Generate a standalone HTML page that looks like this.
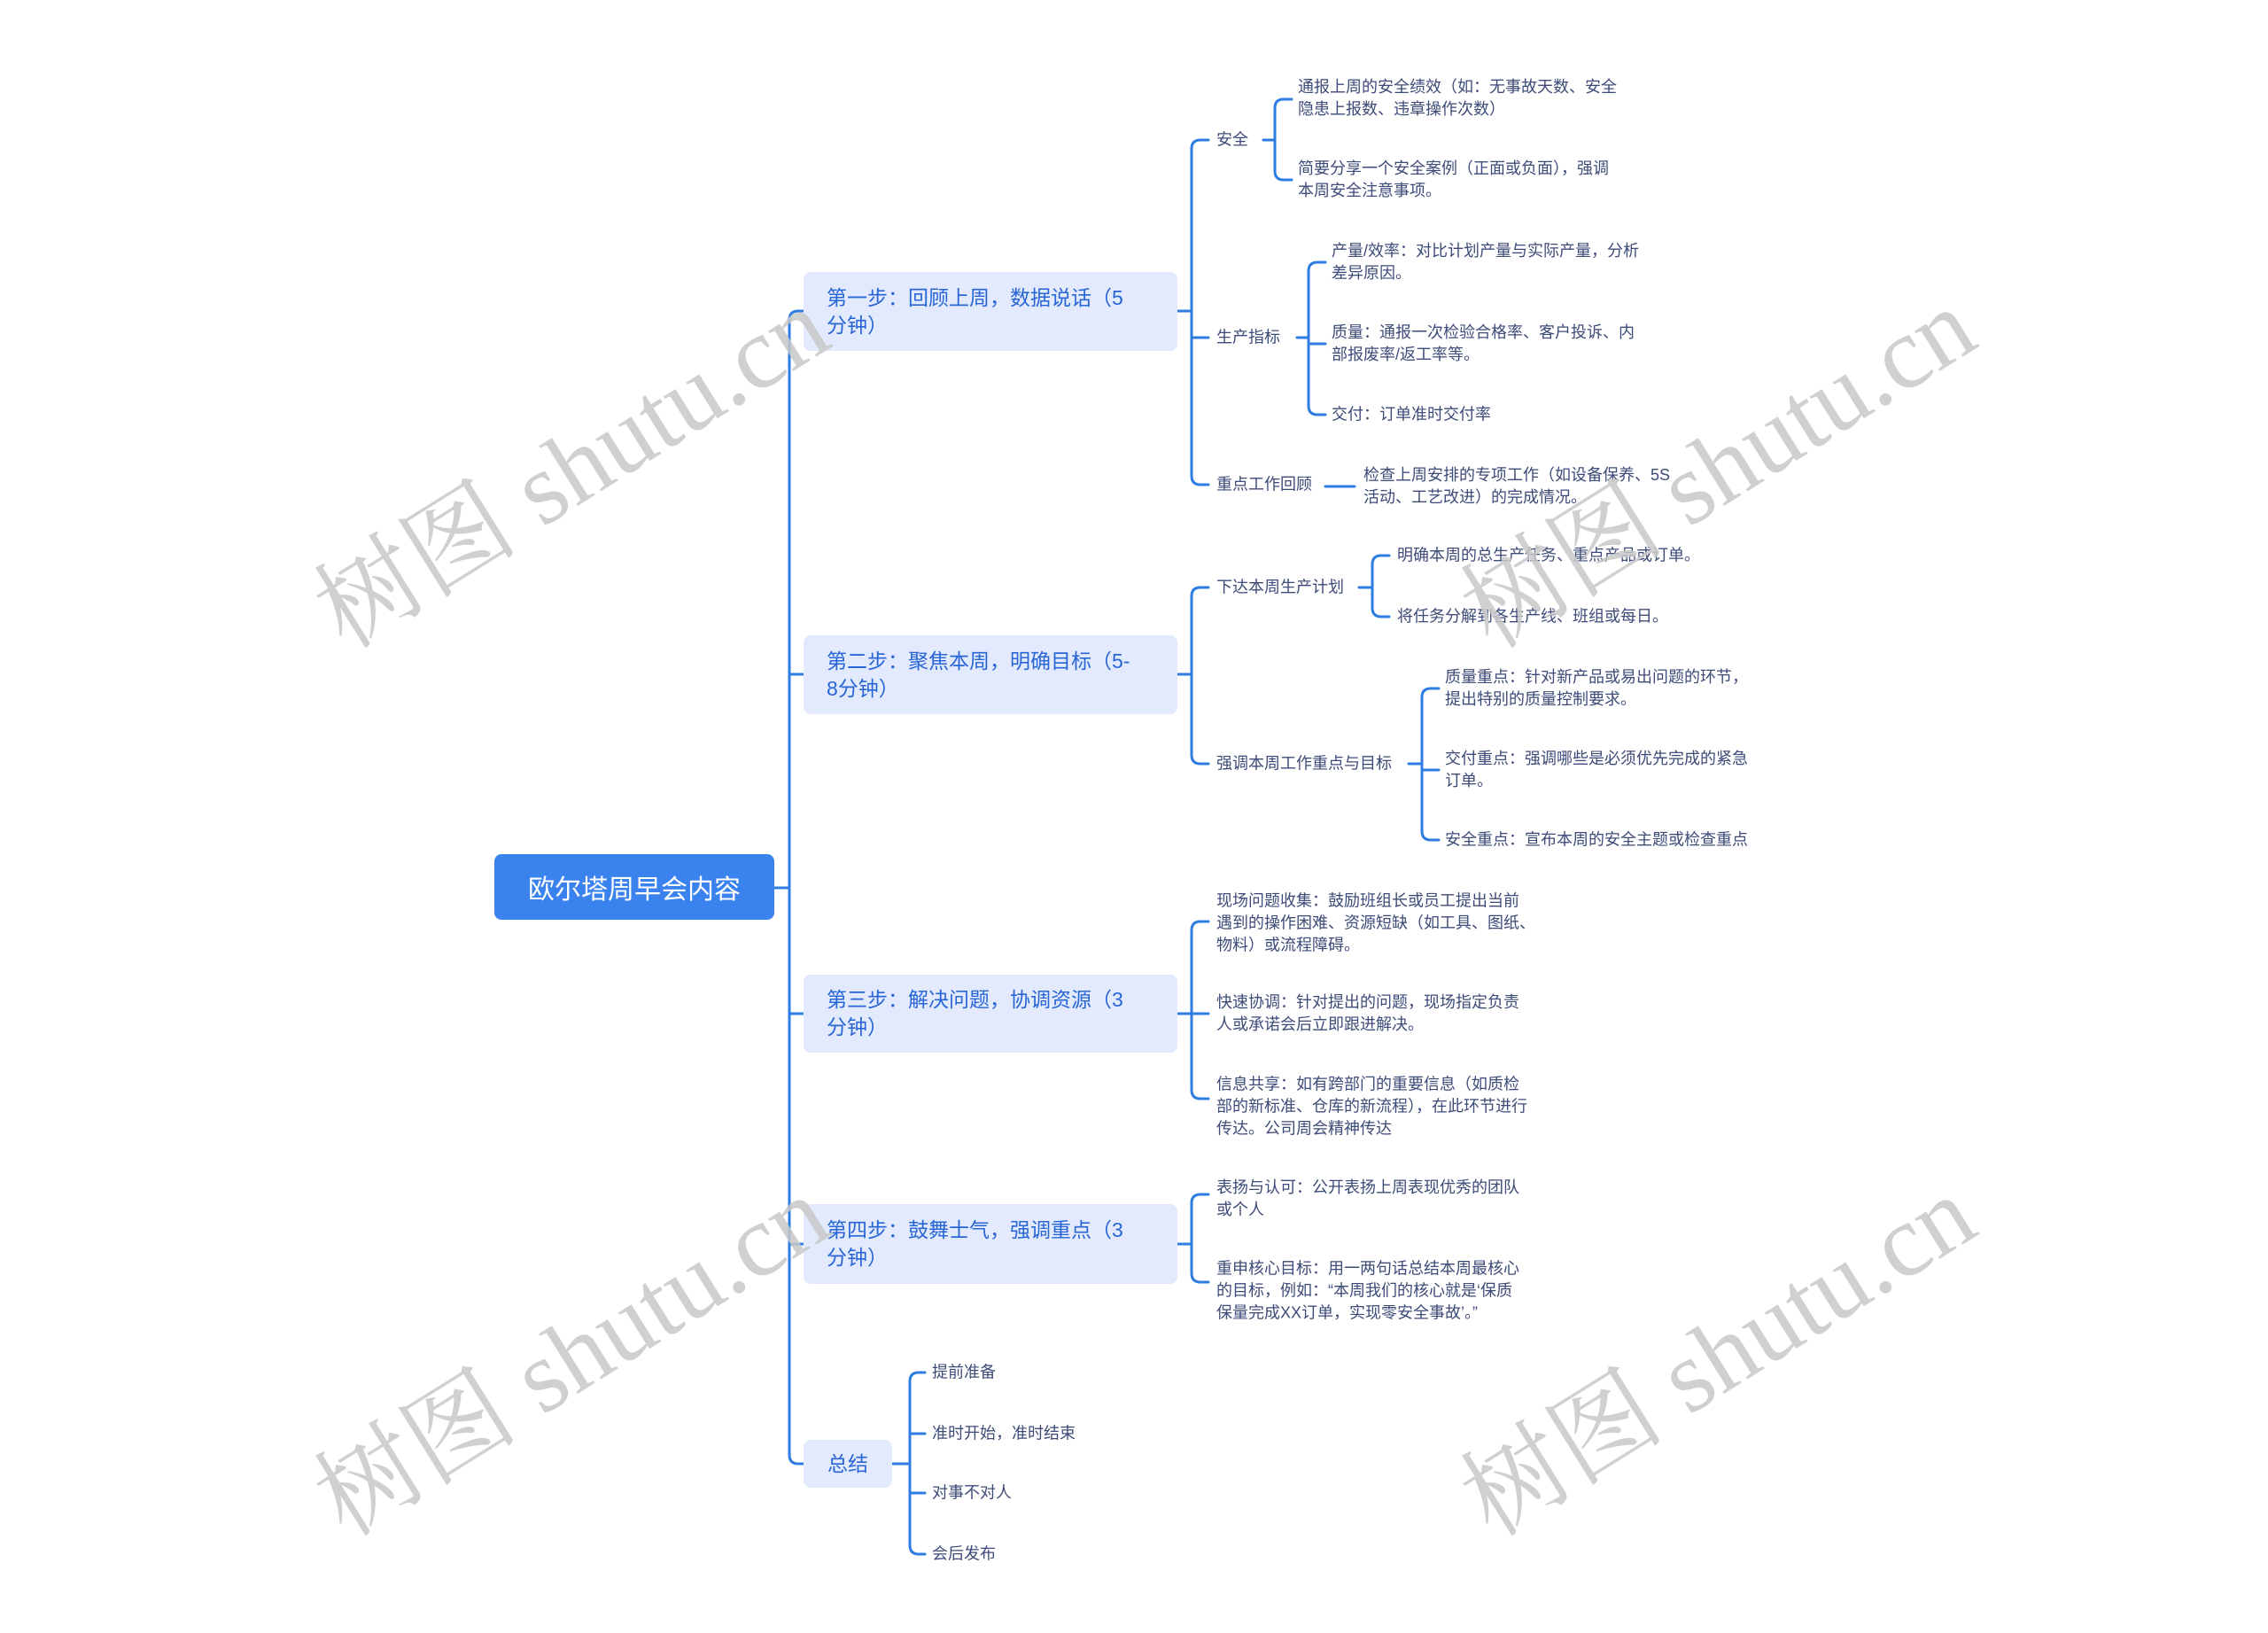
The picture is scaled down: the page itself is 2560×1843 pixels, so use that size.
<!DOCTYPE html>
<html><head><meta charset="utf-8">
<style>
html,body{margin:0;padding:0;background:#fff}
body{width:2560px;height:1843px;position:relative;overflow:hidden;font-family:"Liberation Sans","Noto Sans CJK SC",sans-serif}
.t{position:absolute;white-space:nowrap;color:#3d4b78;font-size:18px;line-height:25px;transform:translateY(-50%)}
.box{position:absolute;background:#e3eafd;border-radius:8px;color:#2866d6;font-size:23px;line-height:31px;box-sizing:border-box;padding:0 26px;display:flex;align-items:center}
.root{position:absolute;left:558px;top:964px;width:316px;height:74px;background:#3a82ee;border-radius:8px;color:#fff;font-size:30px;display:flex;align-items:center;justify-content:center}
.wm{position:absolute;font-family:"Liberation Serif","Noto Serif CJK SC",serif;font-size:116px;color:rgba(200,200,200,0.85);white-space:nowrap;transform:translate(-50%,-50%) rotate(-32deg)}
svg{position:absolute;left:0;top:0}
</style></head><body>
<svg width="2560" height="1843" fill="none" stroke="#2f7de1" stroke-width="3" stroke-linecap="round">
<path d="M874 1002H891M907 351H901Q891 351 891 361V1642Q891 1652 901 1652H907M891 761H907M891 1144H907M891 1404H907"/>
<path d="M1329 351H1345M1364 158H1355Q1345 158 1345 168V537Q1345 547 1355 547H1364M1345 381H1364"/>
<path d="M1426 158H1439M1458 112H1449Q1439 112 1439 122V193Q1439 203 1449 203H1458"/>
<path d="M1464 381H1477M1496 296H1487Q1477 296 1477 306V458Q1477 468 1487 468H1496M1477 388H1496"/>
<path d="M1496 549H1529"/>
<path d="M1329 761H1345M1364 663H1355Q1345 663 1345 673V852Q1345 862 1355 862H1364"/>
<path d="M1534 663H1549M1568 627H1559Q1549 627 1549 637V686Q1549 696 1559 696H1568"/>
<path d="M1590 862H1605M1624 777H1615Q1605 777 1605 787V938Q1605 948 1615 948H1624M1605 869H1624"/>
<path d="M1329 1144H1345M1364 1040H1355Q1345 1040 1345 1050V1230Q1345 1240 1355 1240H1364M1345 1144H1364"/>
<path d="M1329 1404H1345M1364 1348H1355Q1345 1348 1345 1358V1437Q1345 1447 1355 1447H1364"/>
<path d="M1007 1652H1027M1044 1549H1037Q1027 1549 1027 1559V1744Q1027 1754 1037 1754H1044M1027 1618H1044M1027 1685H1044"/>
</svg>

<div class="root">欧尔塔周早会内容</div>
<div class="box" style="left:907px;top:307px;width:422px;height:89px">第一步：回顾上周，数据说话（5<br>分钟）</div>
<div class="box" style="left:907px;top:717px;width:422px;height:89px">第二步：聚焦本周，明确目标（5-<br>8分钟）</div>
<div class="box" style="left:907px;top:1100px;width:422px;height:88px">第三步：解决问题，协调资源（3<br>分钟）</div>
<div class="box" style="left:907px;top:1359px;width:422px;height:90px">第四步：鼓舞士气，强调重点（3<br>分钟）</div>
<div class="box" style="left:907px;top:1625px;width:100px;height:54px;justify-content:center;padding:0">总结</div>

<div class="t" style="left:1373px;top:158px">安全</div>
<div class="t" style="left:1465px;top:111px">通报上周的安全绩效（如：无事故天数、安全<br>隐患上报数、违章操作次数）</div>
<div class="t" style="left:1465px;top:203px">简要分享一个安全案例（正面或负面），强调<br>本周安全注意事项。</div>
<div class="t" style="left:1373px;top:381px">生产指标</div>
<div class="t" style="left:1503px;top:296px">产量/效率：对比计划产量与实际产量，分析<br>差异原因。</div>
<div class="t" style="left:1503px;top:388px">质量：通报一次检验合格率、客户投诉、内<br>部报废率/返工率等。</div>
<div class="t" style="left:1503px;top:468px">交付：订单准时交付率</div>
<div class="t" style="left:1373px;top:547px">重点工作回顾</div>
<div class="t" style="left:1539px;top:549px">检查上周安排的专项工作（如设备保养、5S<br>活动、工艺改进）的完成情况。</div>

<div class="t" style="left:1373px;top:663px">下达本周生产计划</div>
<div class="t" style="left:1577px;top:627px">明确本周的总生产任务、重点产品或订单。</div>
<div class="t" style="left:1577px;top:696px">将任务分解到各生产线、班组或每日。</div>
<div class="t" style="left:1373px;top:862px">强调本周工作重点与目标</div>
<div class="t" style="left:1631px;top:777px">质量重点：针对新产品或易出问题的环节，<br>提出特别的质量控制要求。</div>
<div class="t" style="left:1631px;top:869px">交付重点：强调哪些是必须优先完成的紧急<br>订单。</div>
<div class="t" style="left:1631px;top:948px">安全重点：宣布本周的安全主题或检查重点</div>

<div class="t" style="left:1373px;top:1042px">现场问题收集：鼓励班组长或员工提出当前<br>遇到的操作困难、资源短缺（如工具、图纸、<br>物料）或流程障碍。</div>
<div class="t" style="left:1373px;top:1144px">快速协调：针对提出的问题，现场指定负责<br>人或承诺会后立即跟进解决。</div>
<div class="t" style="left:1373px;top:1249px">信息共享：如有跨部门的重要信息（如质检<br>部的新标准、仓库的新流程），在此环节进行<br>传达。公司周会精神传达</div>

<div class="t" style="left:1373px;top:1353px">表扬与认可：公开表扬上周表现优秀的团队<br>或个人</div>
<div class="t" style="left:1373px;top:1457px">重申核心目标：用一两句话总结本周最核心<br>的目标，例如：“本周我们的核心就是‘保质<br>保量完成XX订单，实现零安全事故’。”</div>

<div class="t" style="left:1052px;top:1549px">提前准备</div>
<div class="t" style="left:1052px;top:1618px">准时开始，准时结束</div>
<div class="t" style="left:1052px;top:1685px">对事不对人</div>
<div class="t" style="left:1052px;top:1754px">会后发布</div>

<div class="wm" style="left:640px;top:520px">树图 shutu.cn</div>
<div class="wm" style="left:1934px;top:520px">树图 shutu.cn</div>
<div class="wm" style="left:640px;top:1522px">树图 shutu.cn</div>
<div class="wm" style="left:1934px;top:1522px">树图 shutu.cn</div>
</body></html>
